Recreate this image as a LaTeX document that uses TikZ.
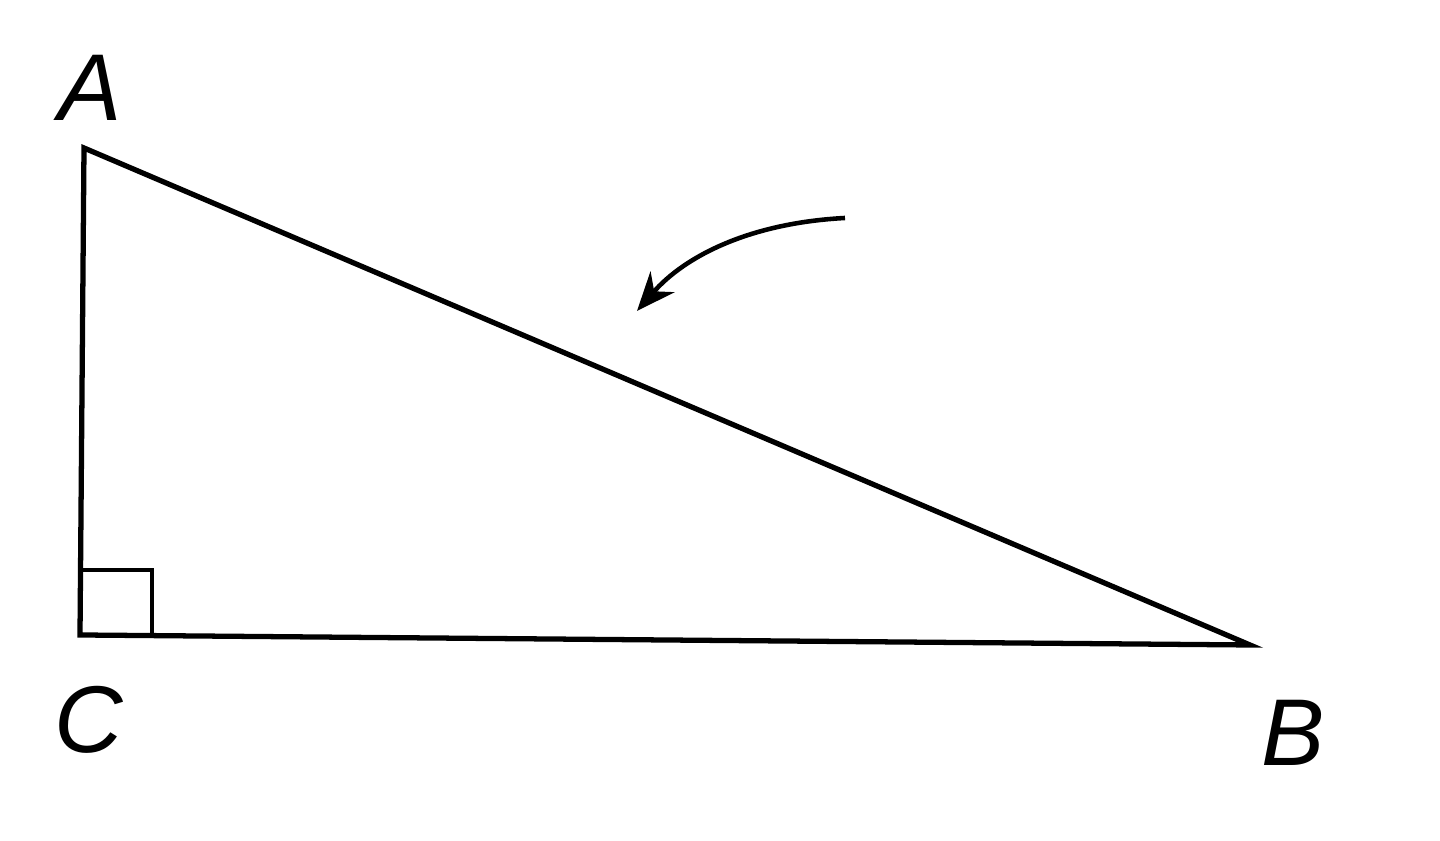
\documentclass[tikz,border=0pt]{standalone}
\usepackage{fontspec}
\setmainfont{Liberation Sans}
\usetikzlibrary{arrows.meta, calc}
\tikzstyle{side} = [line width=1.5pt, line join=miter]
\tikzstyle{vlabel} = [inner sep=0pt, font=\fontsize{27}{30}\selectfont\itshape]

\begin{document}
\begin{tikzpicture}[x=1cm, y=1cm]
		\useasboundingbox (0,0) rectangle (14.4,8.41);
		\coordinate (A) at (0.84,6.93);
		\coordinate (C) at (0.80,2.06);
		\coordinate (B) at (12.50,1.96);
		\node[vlabel]  (label A) at (0.90,7.53) {A};
		\node[vlabel]  (label C) at (0.89,1.21) {C};
		\node[vlabel]  (label B) at (12.93,1.08) {B};
		
		\draw[side] (A) -- (C) -- (B) -- cycle;
		\draw[line width=1pt] ($(C)+(0,0.65)$) -| ($(C)+(0.72,0)$);
		
		\coordinate (tail) at (8.45,6.23);
		\coordinate (tip)  at (6.37,5.30);
		\draw[line width=1.3pt, -{Stealth[length=11pt, width=9pt]}] (tail) .. controls (7.50,6.18) and (6.85,5.85) .. (tip);
	\end{tikzpicture}
\end{document}
